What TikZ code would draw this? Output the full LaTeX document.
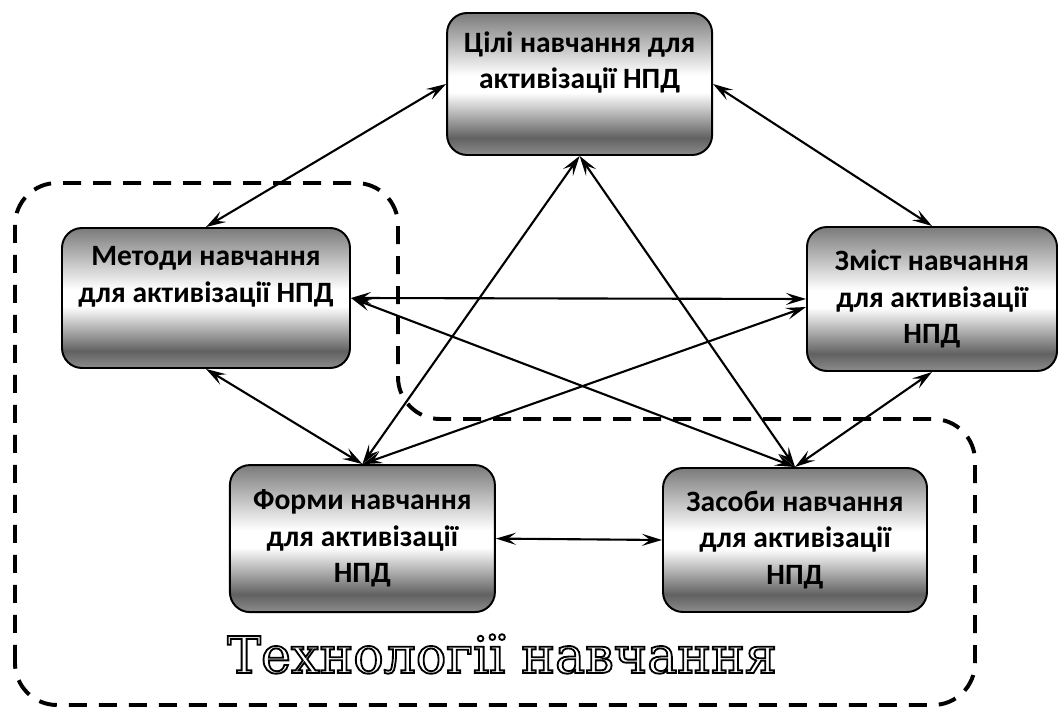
\documentclass[tikz,border=0pt]{standalone}
\usepackage{fontspec}
\setmainfont{Carlito}
\newfontfamily\outlinefont{DejaVu Serif}
\newcommand{\hollowtext}[1]{\special{pdf:literal direct 1 Tr 1.3 w}#1\special{pdf:literal direct 0 Tr}}
\usetikzlibrary{arrows.meta}
\pgfdeclareverticalshading{boxshade}{100bp}{color(0bp)=(black!45); color(25bp)=(black!45); color(31bp)=(black!62); color(47bp)=(white); color(53bp)=(white); color(75bp)=(black!52); color(100bp)=(black!52)}
\tikzset{
  blockbox/.style={draw, line width=1.4pt, rounded corners=0.5cm, shade, shading=boxshade, align=center, inner sep=0pt, font=\bfseries\fontsize{21}{26}\selectfont},
  link/.style={{Stealth[length=5mm,width=3mm,inset=2mm]}-{Stealth[length=5mm,width=3mm,inset=2mm]}, line width=1.5pt},
}
\begin{document}
\begin{tikzpicture}
\useasboundingbox (0,0) rectangle (26.5,17.675);
\draw[line width=2.8pt, dash pattern=on 0.45cm off 0.3cm, rounded corners=1.05cm] (0.375,0.05) -- (0.375,13.1) -- (9.95,13.1) -- (9.95,7.2) -- (24.375,7.2) -- (24.375,0.05) -- cycle;
\node[blockbox, minimum width=6.625cm, minimum height=3.55cm] (goals) at (14.49,15.575) {Цілі навчання для\\активізації НПД\\\strut};
\node[blockbox, minimum width=7.2cm, minimum height=3.5cm] (methods) at (5.15,10.225) {Методи навчання\\для активізації НПД\\\strut};
\node[blockbox, minimum width=6.25cm, minimum height=3.6cm] (content) at (23.3,10.2) {Зміст навчання\\для активізації\\НПД};
\node[blockbox, minimum width=6.625cm, minimum height=3.675cm] (forms) at (9.06,4.21) {Форми навчання\\для активізації\\НПД};
\node[blockbox, minimum width=6.6cm, minimum height=3.6cm] (means) at (19.875,4.175) {Засоби навчання\\для активізації\\НПД};
\node[anchor=base, font=\outlinefont\fontsize{36}{42}\selectfont] (techlabel) at (12.55,0.85) {\hollowtext{Технології навчання}};
\draw[link] (methods.north) -- (goals.west);
\draw[link] (goals.east) -- (content.north);
\draw[link] (methods.south) -- (forms.north);
\draw[link] (content.south) -- (means.north);
\draw[link] (forms.east) -- (means.west);
\draw[link] (methods.east) -- (content.west);
\draw[link] (methods.east) -- (means.north);
\draw[link] ([yshift=-0.2cm]content.west) -- (forms.north);
\draw[link] (goals.south) -- (forms.north);
\draw[link] (goals.south) -- (means.north);
\end{tikzpicture}
\end{document}
